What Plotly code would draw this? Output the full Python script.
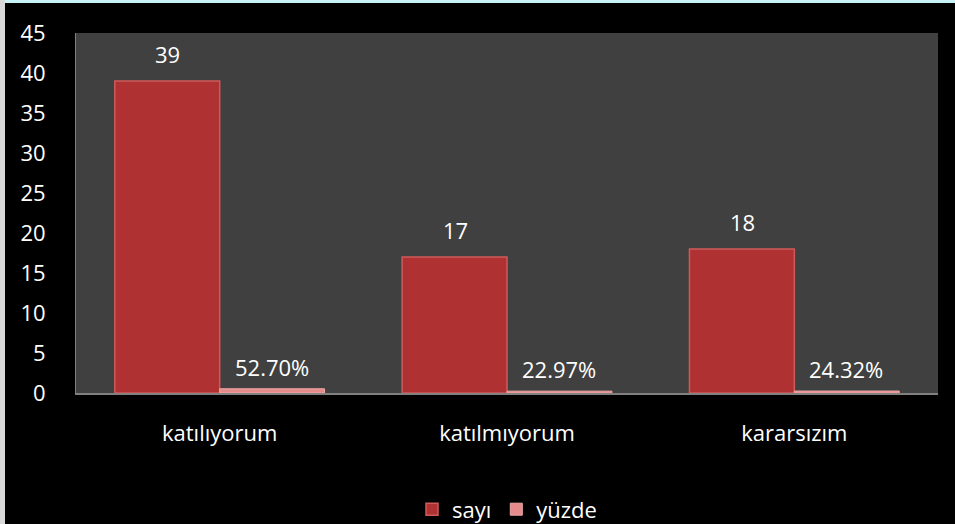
import plotly.graph_objects as go

categories = ["katılıyorum", "katılmıyorum", "kararsızım"]
sayi = [39, 17, 18]
yuzde = [0.5270, 0.2297, 0.2432]
yuzde_labels = ["52.70%", "22.97%", "24.32%"]
y_ticks = [0, 5, 10, 15, 20, 25, 30, 35, 40, 45]

FONT = "Open Sans"
FS = 22

fig = go.Figure()
fig.add_trace(go.Bar(
    name="sayı", x=categories, y=sayi,
    marker=dict(color="#b03131", line=dict(color="#cf5a5a", width=1.5)),
))
fig.add_trace(go.Bar(
    name="yüzde", x=categories, y=yuzde,
    marker=dict(color="#e48c8c", line=dict(color="#f0a8a8", width=1)),
))

annotations = []
for i, c in enumerate(categories):
    annotations.append(dict(x=c, y=sayi[i], xref="x", yref="y", text=str(sayi[i]),
                            showarrow=False, xshift=-52, yshift=27,
                            font=dict(color="white", size=FS, family=FONT)))
    annotations.append(dict(x=c, y=yuzde[i], xref="x", yref="y", text=yuzde_labels[i],
                            showarrow=False, xshift=52, yshift=22,
                            font=dict(color="white", size=FS, family=FONT)))

fig.update_layout(
    width=955, height=524,
    paper_bgcolor="black", plot_bgcolor="#404040",
    margin=dict(l=76, r=17, t=33, b=131, pad=0, autoexpand=False),
    barmode="group", bargap=0.27, bargroupgap=0,
    font=dict(family=FONT, color="white", size=FS),
    showlegend=True,
    legend=dict(orientation="h", x=0.5, xanchor="center", y=-0.265, yanchor="top",
                font=dict(size=FS, color="white"), itemwidth=30, tracegroupgap=0),
    xaxis=dict(showgrid=False, showline=True, linecolor="#808080", linewidth=2,
               ticks="", tickfont=dict(size=FS), ticklabelstandoff=20),
    yaxis=dict(range=[0, 45], tickvals=y_ticks, showgrid=False, zeroline=False,
               showline=True, linecolor="#808080", linewidth=1,
               ticks="", tickfont=dict(size=FS), ticklabelstandoff=25),
    annotations=annotations,
    shapes=[
        dict(type="rect", xref="paper", yref="paper", x0=-76/862, x1=1+17/862,
             y0=1+30/360, y1=1+33/360, fillcolor="#c8f3f6", line=dict(width=0), layer="above"),
        dict(type="rect", xref="paper", yref="paper", x0=-76/862, x1=-71/862,
             y0=-131/360, y1=1+33/360, fillcolor="#d9d9d9", line=dict(width=0), layer="above"),
    ],
)

fig.write_html("out.html", config={"displayModeBar": False},
               post_script="document.body.style.margin='0';document.body.style.padding='0';")
